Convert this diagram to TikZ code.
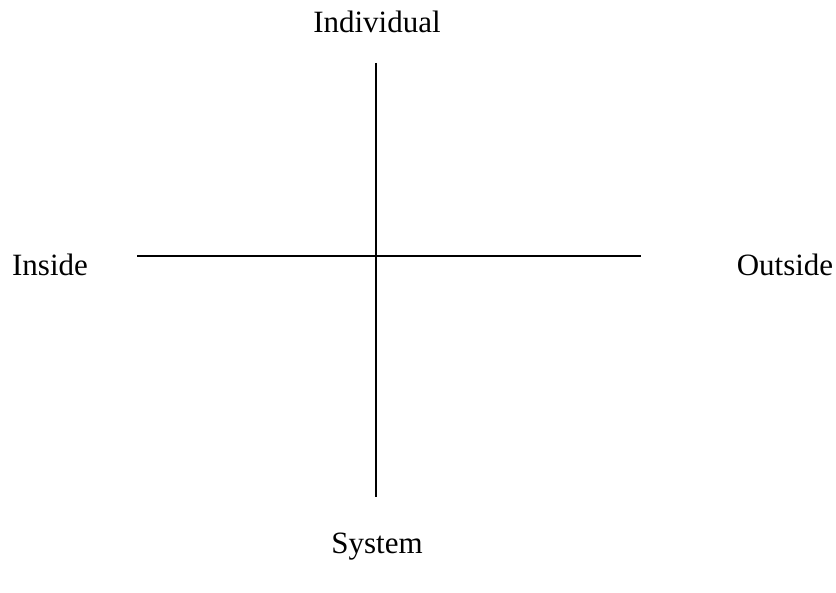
\documentclass[tikz,border=0pt]{standalone}
\usepackage{fontspec}
\setmainfont{Liberation Serif}

\begin{document}
\begin{tikzpicture}[x=0.5pt,y=-0.5pt,font=\fontsize{15.5}{18}\selectfont]
\useasboundingbox (0,0) rectangle (836,593);
\tikzset{axis/.style={line width=0.9pt}}
\coordinate (top) at (376,63);
\coordinate (bot) at (376,497);
\coordinate (lft) at (137,256);
\coordinate (rgt) at (641,256);
\node (indiv) at (377,22) {Individual};
\node (inside) at (50,265) {Inside};
\node (outside) at (785,265) {Outside};
\node (system) at (377,547) {System};
\draw[axis] (top)--(bot);
\draw[axis] (lft)--(rgt);
\end{tikzpicture}
\end{document}
